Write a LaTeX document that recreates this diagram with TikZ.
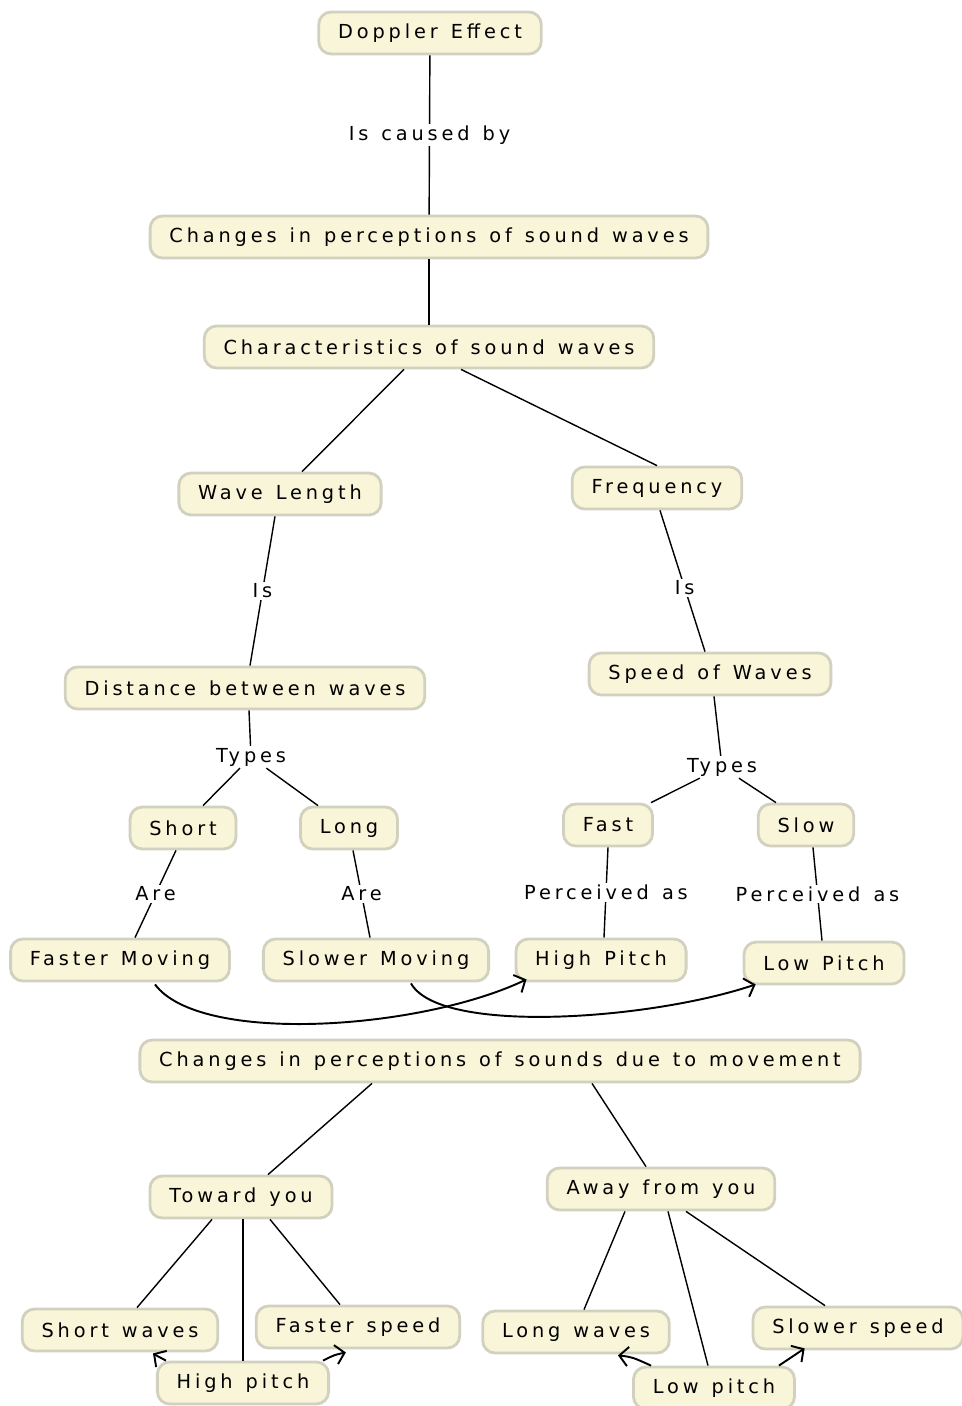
\documentclass[tikz,border=0pt]{standalone}
\usepackage{fontspec}
\setmainfont{DejaVu Sans}[LetterSpace=20, WordSpace=1.3]
\usetikzlibrary{arrows.meta, calc}
\definecolor{boxFill}{HTML}{F8F5D9}
\definecolor{boxLine}{HTML}{D2D0BE}

\begin{document}
\begin{tikzpicture}[x=0.02cm, y=-0.02cm, font=\fontsize{11}{13}\selectfont,
  concept/.style={draw=boxLine, fill=boxFill, rounded corners=7pt, line width=1.6pt,
                  minimum height=0.84cm, inner xsep=11pt, anchor=center},
  link/.style={line width=0.8pt},
  lbl/.style={fill=white, inner sep=1pt},
  hand/.style={line width=1.1pt, -{Straight Barb[length=5pt,width=11pt]}},
]
  \useasboundingbox (0,0) rectangle (961,1406);
  % upper map
  \node[concept] (de) at (430,33) {Doppler Effect};
  \node[concept] (cs) at (429,237) {Changes in perceptions of sound waves};
  \node[concept] (ch) at (429,347) {Characteristics of sound waves};
  \node[concept] (wl) at (280,494) {Wave Length};
  \node[concept] (fr) at (657,488) {Frequency};
  \node[concept] (dw) at (245,688) {Distance between waves};
  \node[concept] (sw) at (710,674) {Speed of Waves};
  \node[lbl] (tyA) at (251,757) {Types};
  \node[lbl] (tyB) at (722,767) {Types};
  \node[concept] (sh) at (183,828) {Short};
  \node[concept] (lo) at (349,828) {Long};
  \node[concept] (fa) at (608,825) {Fast};
  \node[concept] (sl) at (806,825) {Slow};
  \node[concept] (fm) at (120,960) {Faster Moving};
  \node[concept] (sm) at (376,960) {Slower Moving};
  \node[concept] (hp) at (601,960) {High Pitch};
  \node[concept] (lp) at (824,963) {Low Pitch};
  % lower map
  \node[concept] (mv) at (500,1061) {Changes in perceptions of sounds due to movement};
  \node[concept] (ty) at (241,1197) {Toward you};
  \node[concept] (aw) at (661,1189) {Away from you};
  \node[concept] (swv) at (120,1330) {Short waves};
  \node[concept] (fs) at (358,1327) {Faster speed};
  \node[concept] (hpb) at (243,1383) {High pitch};
  \node[concept] (lw) at (576,1332) {Long waves};
  \node[concept] (ss) at (858,1328) {Slower speed};
  \node[concept] (lpb) at (714,1388) {Low pitch};

  \draw[link] (de) -- node[lbl] {Is caused by} (cs);
  \draw[link] (cs) -- (ch);
  \draw[link] ($(ch.south)+(-25,0)$) -- ($(wl.north)+(22,0)$);
  \draw[link] ($(ch.south)+(32,0)$) -- (fr.north);
  \draw[link] ($(wl.south)+(-5,0)$) -- node[lbl] {Is} ($(dw.north)+(5,0)$);
  \draw[link] ($(fr.south)+(3,0)$) -- node[lbl, pos=0.55] {Is} ($(sw.north)+(-5,0)$);
  \draw[link] ($(dw.south)+(4,0)$) -- (tyA);
  \draw[link] (tyA) -- ($(sh.north)+(20,0)$);
  \draw[link] (tyA) -- ($(lo.north)+(-31,0)$);
  \draw[link] ($(sw.south)+(4,0)$) -- (tyB);
  \draw[link] (tyB) -- ($(fa.north)+(43,0)$);
  \draw[link] (tyB) -- ($(sl.north)+(-30,0)$);
  \draw[link] ($(sh.south)+(-7,0)$) -- node[lbl] {Are} ($(fm.north)+(15,0)$);
  \draw[link] ($(lo.south)+(4,0)$) -- node[lbl] {Are} ($(sm.north)+(-6,0)$);
  \draw[link] (fa.south) -- node[lbl] {Perceived as} ($(hp.north)+(3,0)$);
  \draw[link] ($(sl.south)+(7,0)$) -- node[lbl] {Perceived as} ($(lp.north)+(-2,0)$);
  \draw[hand] ($(fm.south)+(35,2)$) .. controls (200,1045) and (420,1030) .. ($(hp.south west)+(12,-3)$);
  \draw[hand] ($(sm.south)+(35,1)$) .. controls (440,1035) and (650,1020) .. ($(lp.south west)+(13,-1)$);

  \draw[link] ($(mv.south)+(-128,0)$) -- ($(ty.north)+(27,0)$);
  \draw[link] ($(mv.south)+(92,0)$) -- ($(aw.north)+(-15,0)$);
  \draw[link] ($(ty.south)+(-29,0)$) -- ($(swv.north)+(17,0)$);
  \draw[link] ($(ty.south)+(2,0)$) -- (hpb.north);
  \draw[link] ($(ty.south)+(29,0)$) -- ($(fs.north)+(-18,0)$);
  \draw[link] ($(aw.south)+(-36,0)$) -- ($(lw.north)+(8,0)$);
  \draw[link] ($(aw.south)+(7,0)$) -- ($(lpb.north)+(-6,0)$);
  \draw[link] ($(aw.south)+(25,0)$) -- ($(ss.north)+(-33,0)$);
  \draw[hand] ($(hpb.north west)+(10,0)$) .. controls (160,1358) .. ($(swv.south)+(33,1)$);
  \draw[hand] ($(hpb.north east)+(-7,0)$) .. controls (334,1355) .. ($(fs.south west)+(91,3)$);
  \draw[hand] ($(lpb.north west)+(19,0)$) .. controls (632,1357) .. ($(lw.south)+(42,1)$);
  \draw[hand] ($(lpb.north east)+(-17,0)$) .. controls (790,1358) .. ($(ss.south west)+(53,-2)$);
\end{tikzpicture}
\end{document}
